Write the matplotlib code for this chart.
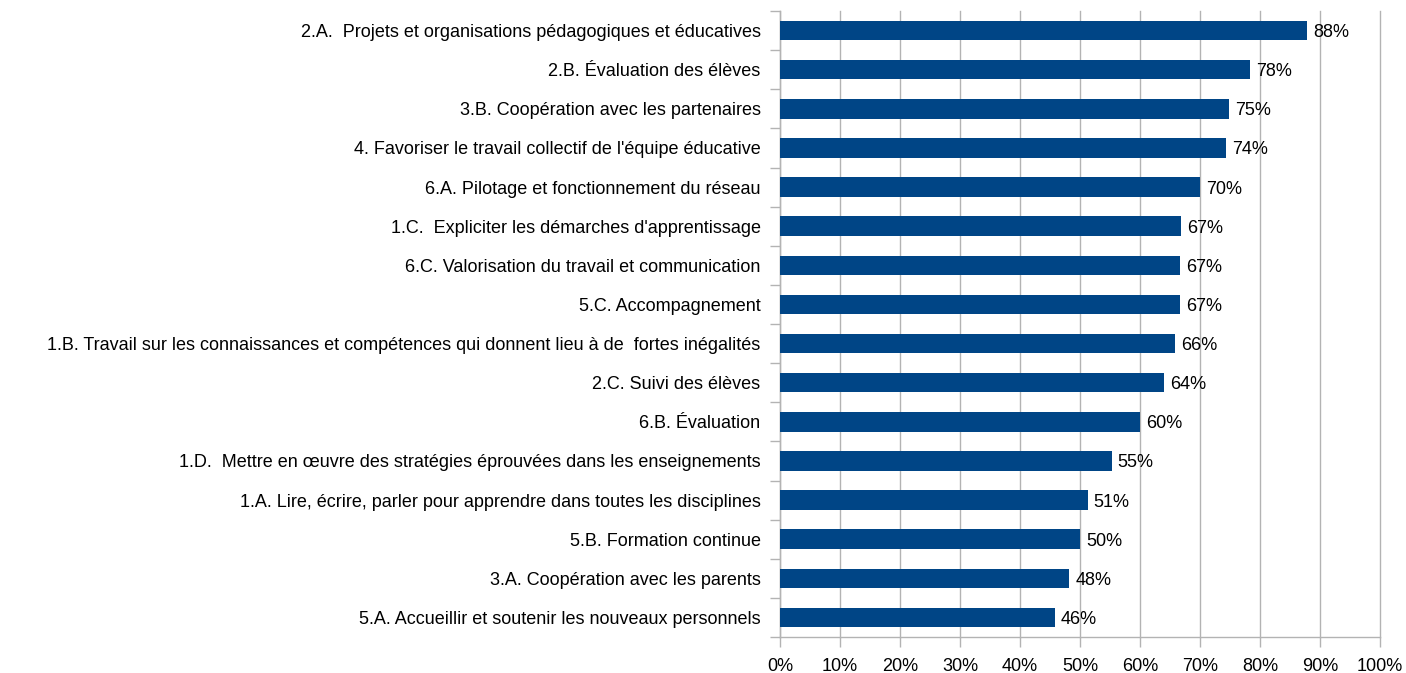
import matplotlib
matplotlib.use("Agg")
import matplotlib.pyplot as plt
import numpy as np

categories = [
    "2.A.  Projets et organisations pédagogiques et éducatives",
    "2.B. Évaluation des élèves",
    "3.B. Coopération avec les partenaires",
    "4. Favoriser le travail collectif de l'équipe éducative",
    "6.A. Pilotage et fonctionnement du réseau",
    "1.C.  Expliciter les démarches d'apprentissage",
    "6.C. Valorisation du travail et communication",
    "5.C. Accompagnement",
    "1.B. Travail sur les connaissances et compétences qui donnent lieu à de  fortes inégalités",
    "2.C. Suivi des élèves",
    "6.B. Évaluation",
    "1.D.  Mettre en œuvre des stratégies éprouvées dans les enseignements",
    "1.A. Lire, écrire, parler pour apprendre dans toutes les disciplines",
    "5.B. Formation continue",
    "3.A. Coopération avec les parents",
    "5.A. Accueillir et soutenir les nouveaux personnels",
]
values = [87.8, 78.3, 74.8, 74.3, 70.0, 66.8, 66.7, 66.7, 65.8, 64.0, 60.0, 55.3, 51.3, 50.0, 48.2, 45.8]
xticks = [0, 10, 20, 30, 40, 50, 60, 70, 80, 90, 100]

plt.rcParams['font.family'] = ['Liberation Sans', 'DejaVu Sans']
fig = plt.figure(figsize=(14.06, 6.73), dpi=100)
ax = fig.add_axes([780/1406, 36/673, 600/1406, 626/673])

n = len(categories)
y = np.arange(n)
ax.barh(y, values, height=0.5, color="#004586", zorder=3)
ax.set_ylim(n - 0.5, -0.5)
ax.set_xlim(0, 100)
ax.set_yticks(y)
ax.set_yticklabels(categories, fontsize=13)
ax.set_yticks(np.arange(-0.5, n, 1), minor=True)
ax.tick_params(axis='y', which='major', length=0, pad=14)
ax.tick_params(axis='y', which='minor', length=7, color="#b3b3b3", width=1)
ax.set_xticks(xticks)
ax.set_xticklabels([f"{t}%" for t in xticks], fontsize=13)
ax.tick_params(axis='x', length=7, color="#b3b3b3", width=1, pad=8)
ax.grid(axis='x', color="#b3b3b3", linewidth=1, zorder=0)
for gl in ax.get_xgridlines():
    gl.set_clip_on(False)
for s in ['top', 'right']:
    ax.spines[s].set_visible(False)
for s in ['left', 'bottom']:
    ax.spines[s].set_color("#b3b3b3")
    ax.spines[s].set_linewidth(1)

for yi, v in zip(y, values):
    ax.text(v + 1.0, yi, f"{round(v)}%", va='center_baseline', ha='left', fontsize=13, color="#000000")

fig.savefig("out.png", dpi=100)
